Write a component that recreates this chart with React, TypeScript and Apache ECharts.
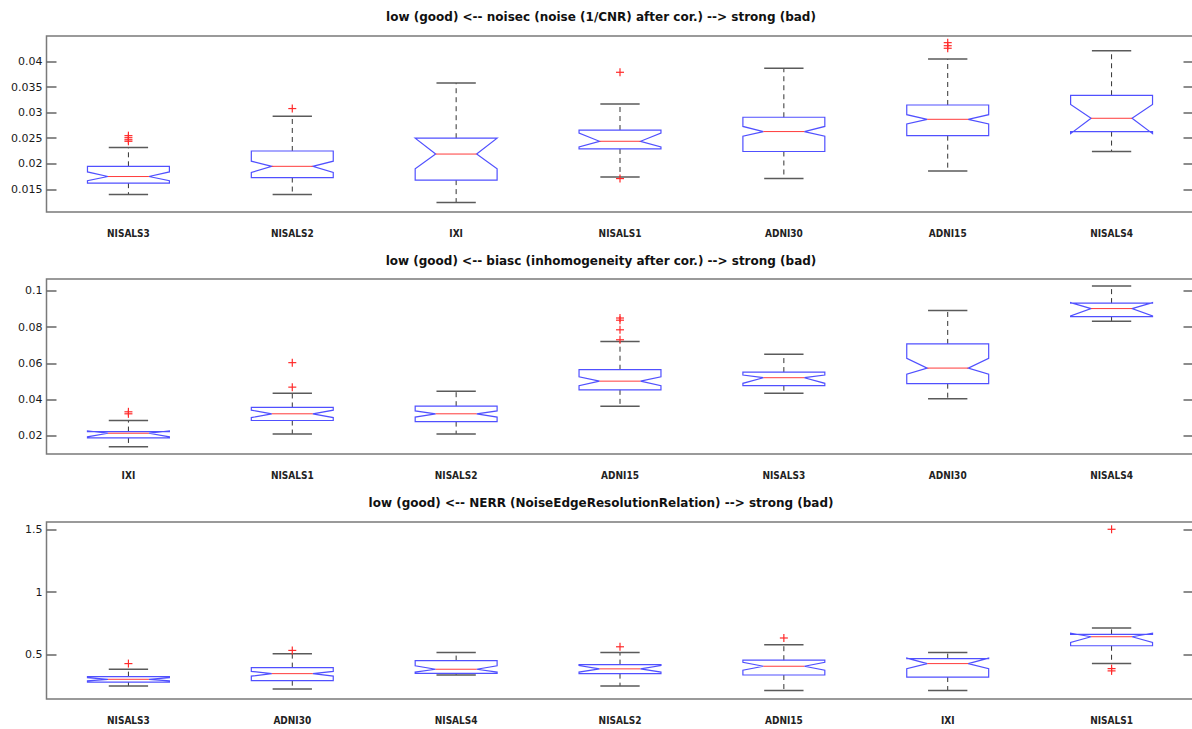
import React, { useEffect, useRef } from 'react';
import * as echarts from 'echarts';

// ---------- Panel 1: noisec ----------
const title1 = 'low (good) <-- noisec (noise (1/CNR) after cor.) --> strong (bad)';
const cats1 = ['NISALS3', 'NISALS2', 'IXI', 'NISALS1', 'ADNI30', 'ADNI15', 'NISALS4'];
const lowerWhisker1 = [0.0140, 0.0140, 0.0124, 0.0174, 0.0171, 0.0186, 0.0224];
const q1_1 = [0.0162, 0.0173, 0.0168, 0.0229, 0.0224, 0.0255, 0.0263];
const median1 = [0.0175, 0.0195, 0.0219, 0.0244, 0.0263, 0.0287, 0.0289];
const q3_1 = [0.0195, 0.0225, 0.0250, 0.0266, 0.0291, 0.0315, 0.0334];
const upperWhisker1 = [0.0232, 0.0293, 0.0358, 0.0317, 0.0387, 0.0405, 0.0421];
const notchLow1 = [0.0167, 0.0183, 0.0190, 0.0233, 0.0254, 0.0278, 0.0259];
const notchHigh1 = [0.0184, 0.0205, 0.0250, 0.0260, 0.0273, 0.0296, 0.0316];
const outliers1: [string, number][] = [
  ['NISALS3', 0.0255], ['NISALS3', 0.0251], ['NISALS3', 0.0247], ['NISALS3', 0.0244],
  ['NISALS2', 0.0308],
  ['NISALS1', 0.0379], ['NISALS1', 0.0171],
  ['ADNI15', 0.0437], ['ADNI15', 0.0431], ['ADNI15', 0.0426],
];
const yTicks1 = [0.015, 0.02, 0.025, 0.03, 0.035, 0.04];
const yRange1 = [0.01056, 0.0450];

// ---------- Panel 2: biasc ----------
const title2 = 'low (good) <-- biasc (inhomogeneity after cor.) --> strong (bad)';
const cats2 = ['IXI', 'NISALS1', 'NISALS2', 'ADNI15', 'NISALS3', 'ADNI30', 'NISALS4'];
const lowerWhisker2 = [0.0141, 0.0211, 0.0211, 0.0364, 0.0436, 0.0405, 0.0832];
const q1_2 = [0.0189, 0.0285, 0.0279, 0.0454, 0.0477, 0.0488, 0.0858];
const median2 = [0.0215, 0.0322, 0.0322, 0.0502, 0.0521, 0.0574, 0.0902];
const q3_2 = [0.0224, 0.0357, 0.0364, 0.0565, 0.0552, 0.0707, 0.0932];
const upperWhisker2 = [0.0285, 0.0436, 0.0447, 0.0720, 0.0650, 0.0891, 0.1026];
const notchLow2 = [0.0195, 0.0301, 0.0304, 0.0477, 0.0490, 0.0540, 0.0862];
const notchHigh2 = [0.0228, 0.0342, 0.0338, 0.0526, 0.0536, 0.0628, 0.0935];
const outliers2: [string, number][] = [
  ['IXI', 0.0333], ['IXI', 0.0322],
  ['NISALS1', 0.0604], ['NISALS1', 0.0469],
  ['ADNI15', 0.0850], ['ADNI15', 0.0838], ['ADNI15', 0.0785], ['ADNI15', 0.0730],
];
const yTicks2 = [0.02, 0.04, 0.06, 0.08, 0.1];
const yRange2 = [0.01005, 0.1065];

// ---------- Panel 3: NERR ----------
const title3 = 'low (good) <-- NERR (NoiseEdgeResolutionRelation) --> strong (bad)';
const cats3 = ['NISALS3', 'ADNI30', 'NISALS4', 'NISALS2', 'ADNI15', 'IXI', 'NISALS1'];
const lowerWhisker3 = [0.251, 0.227, 0.340, 0.251, 0.216, 0.216, 0.430];
const q1_3 = [0.283, 0.294, 0.352, 0.350, 0.339, 0.323, 0.572];
const median3 = [0.305, 0.350, 0.385, 0.388, 0.409, 0.430, 0.644];
const q3_3 = [0.326, 0.398, 0.454, 0.422, 0.457, 0.470, 0.663];
const upperWhisker3 = [0.385, 0.508, 0.519, 0.519, 0.580, 0.519, 0.714];
const notchLow3 = [0.292, 0.330, 0.362, 0.362, 0.378, 0.390, 0.598];
const notchHigh3 = [0.318, 0.368, 0.412, 0.414, 0.440, 0.474, 0.672];
const outliers3: [string, number][] = [
  ['NISALS3', 0.430],
  ['ADNI30', 0.535],
  ['NISALS2', 0.564],
  ['ADNI15', 0.634],
  ['NISALS1', 1.5], ['NISALS1', 0.390], ['NISALS1', 0.372],
];
const yTicks3 = [0.5, 1, 1.5];
const yRange3 = [0.148, 1.558];

const FONT = 'DejaVu Sans';
const FONT_COND = '"DejaVu Sans Condensed", "DejaVu Sans"';

function boxRows(lw: number[], q1: number[], med: number[], q3: number[], uw: number[], nl: number[], nh: number[]) {
  return lw.map((_, i) => [i, lw[i], q1[i], med[i], q3[i], uw[i], nl[i], nh[i]]);
}

function renderBox(params: any, api: any) {
  const i = api.value(0);
  const band = api.size([1, 0])[0];
  const hw = band * 0.25;
  const cx = api.coord([i, api.value(3)])[0];
  const y = (k: number) => api.coord([i, api.value(k)])[1];
  const yLw = y(1), yQ1 = y(2), yMed = y(3), yQ3 = y(4), yUw = y(5), yNl = y(6), yNh = y(7);
  const L = cx - hw, R = cx + hw, inset = hw / 2, cap = band * 0.12;
  const pts = [[L, yQ3], [R, yQ3], [R, yNh], [R - inset, yMed], [R, yNl], [R, yQ1], [L, yQ1], [L, yNl], [L + inset, yMed], [L, yNh]];
  const dash = { stroke: '#333', lineWidth: 1, lineDash: [5, 4] };
  const capStyle = { stroke: '#5a5a5a', lineWidth: 1.5 };
  return {
    type: 'group',
    children: [
      { type: 'line', shape: { x1: cx, y1: yQ3, x2: cx, y2: yUw }, style: dash },
      { type: 'line', shape: { x1: cx, y1: yQ1, x2: cx, y2: yLw }, style: dash },
      { type: 'line', shape: { x1: cx - cap, y1: yUw, x2: cx + cap, y2: yUw }, style: capStyle },
      { type: 'line', shape: { x1: cx - cap, y1: yLw, x2: cx + cap, y2: yLw }, style: capStyle },
      { type: 'polygon', shape: { points: pts }, style: { fill: 'none', stroke: '#5050ff', lineWidth: 1.2 } },
      { type: 'line', shape: { x1: L + inset, y1: yMed, x2: R - inset, y2: yMed }, style: { stroke: '#ff3b3b', lineWidth: 1 } },
    ],
  };
}

function renderPlus(params: any, api: any) {
  const p = api.coord([api.value(0), api.value(1)]);
  const s = 4;
  const st = { stroke: '#ff2a2a', lineWidth: 1.2 };
  return {
    type: 'group',
    children: [
      { type: 'line', shape: { x1: p[0] - s, y1: p[1], x2: p[0] + s, y2: p[1] }, style: st },
      { type: 'line', shape: { x1: p[0], y1: p[1] - s, x2: p[0], y2: p[1] + s }, style: st },
    ],
  };
}

const fmt = (v: number) => String(+v.toFixed(4));

export default function App() {
  const ref = useRef<HTMLDivElement>(null);
  useEffect(() => {
    if (!ref.current) return;
    const chart = echarts.init(ref.current, null, { renderer: 'svg' });
    const panels = [
      { title: title1, cats: cats1, rows: boxRows(lowerWhisker1, q1_1, median1, q3_1, upperWhisker1, notchLow1, notchHigh1), out: outliers1, ticks: yTicks1, range: yRange1, top: 36, height: 176, titleTop: 11 },
      { title: title2, cats: cats2, rows: boxRows(lowerWhisker2, q1_2, median2, q3_2, upperWhisker2, notchLow2, notchHigh2), out: outliers2, ticks: yTicks2, range: yRange2, top: 279, height: 175, titleTop: 255 },
      { title: title3, cats: cats3, rows: boxRows(lowerWhisker3, q1_3, median3, q3_3, upperWhisker3, notchLow3, notchHigh3), out: outliers3, ticks: yTicks3, range: yRange3, top: 522, height: 177, titleTop: 497 },
    ];
    const grid: any[] = [], xAxis: any[] = [], yAxis: any[] = [], series: any[] = [], title: any[] = [];
    panels.forEach((p, k) => {
      grid.push({ left: 46.5, width: 1147, top: p.top, height: p.height, show: true, borderColor: '#7a7a7a', borderWidth: 1.5, backgroundColor: '#fff' });
      title.push({ text: p.title, left: 601, top: p.titleTop, padding: 0, textAlign: 'center', textStyle: { fontFamily: FONT, fontWeight: 'bold', fontSize: 12, color: '#111' } });
      xAxis.push({
        gridIndex: k, type: 'category', data: p.cats,
        axisLine: { show: false }, axisTick: { show: false }, splitLine: { show: false },
        axisLabel: { margin: 16, fontFamily: FONT_COND, fontSize: 10, fontWeight: 'bold', color: '#222' },
      });
      const tickStyle = { show: true, inside: true, length: 10, customValues: p.ticks, lineStyle: { color: '#666', width: 1.5 } };
      yAxis.push({
        gridIndex: k, type: 'value', min: p.range[0], max: p.range[1], position: 'left',
        axisLine: { show: false }, splitLine: { show: false }, axisTick: tickStyle,
        axisLabel: { customValues: p.ticks, formatter: fmt, margin: 4, fontFamily: FONT, fontSize: 11, color: '#1a1a1a' },
      });
      yAxis.push({
        gridIndex: k, type: 'value', min: p.range[0], max: p.range[1], position: 'right',
        axisLine: { show: false }, splitLine: { show: false }, axisTick: tickStyle,
        axisLabel: { show: false },
      });
      series.push({
        type: 'custom', xAxisIndex: k, yAxisIndex: 2 * k, renderItem: renderBox,
        encode: { x: 0, y: [1, 2, 3, 4, 5, 6, 7] }, data: p.rows, clip: false,
      });
      series.push({
        type: 'custom', xAxisIndex: k, yAxisIndex: 2 * k, renderItem: renderPlus,
        encode: { x: 0, y: 1 }, data: p.out.map(([c, v]) => [p.cats.indexOf(c), v]), clip: false,
      });
    });
    chart.setOption({ animation: false, backgroundColor: '#fff', title, grid, xAxis, yAxis, series });
    return () => chart.dispose();
  }, []);
  return (
    <div style={{ position: 'fixed', left: 0, top: 0, width: 1192, height: 729, overflow: 'hidden', background: '#fff' }}>
      <div ref={ref} style={{ width: 1200, height: 729 }} />
    </div>
  );
}
